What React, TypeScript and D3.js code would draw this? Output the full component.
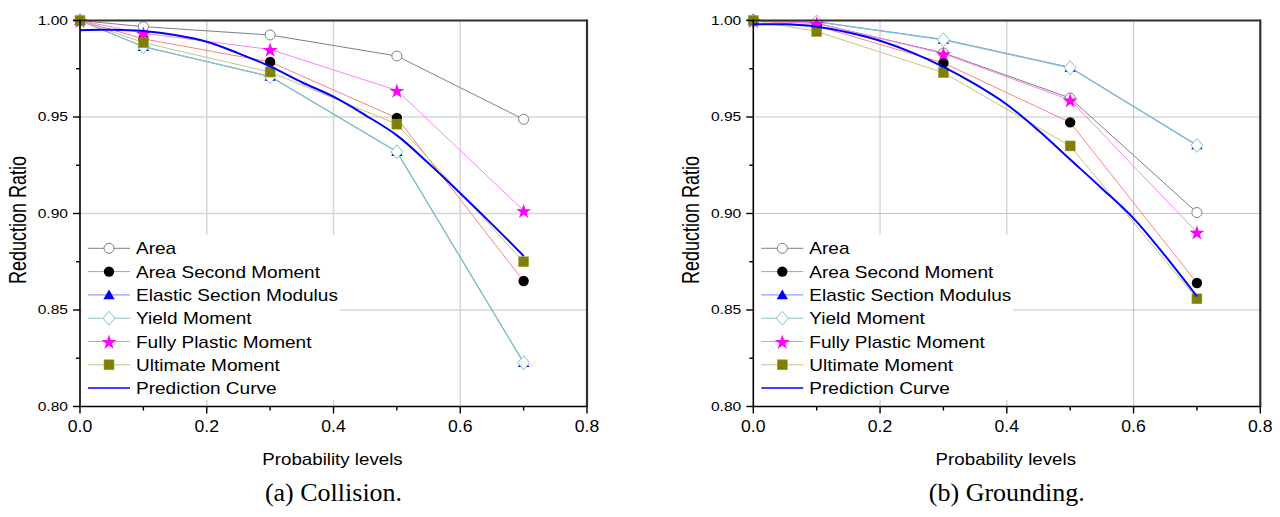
import React from "react";
import * as d3 from "d3";

// ---------- data ----------
const probLevels = [0, 0.1, 0.3, 0.5, 0.7];
const seriesNames = [
  "Area",
  "Area Second Moment",
  "Elastic Section Modulus",
  "Yield Moment",
  "Fully Plastic Moment",
  "Ultimate Moment",
];

// (a) Collision
const colArea = [1.0, 0.9968, 0.9925, 0.9816, 0.9488];
const colAreaSecond = [1.0, 0.9905, 0.9785, 0.9495, 0.865];
const colElastic = [1.0, 0.9864, 0.971, 0.932, 0.8227];
const colYield = [1.0, 0.9864, 0.971, 0.932, 0.8227];
const colPlastic = [1.0, 0.9934, 0.985, 0.9638, 0.9015];
const colUltimate = [1.0, 0.9885, 0.9733, 0.9463, 0.875];
const colPredX = [0, 0.05, 0.1, 0.15, 0.2, 0.25, 0.3, 0.35, 0.4, 0.45, 0.5, 0.55, 0.6, 0.65, 0.7];
const colPredY = [0.995, 0.9952, 0.9945, 0.9925, 0.989, 0.983, 0.9762, 0.968, 0.9605, 0.951, 0.9405, 0.926, 0.9105, 0.8945, 0.878];

// (b) Grounding
const grdArea = [1.0, 0.9985, 0.9832, 0.9598, 0.9005];
const grdAreaSecond = [1.0, 0.9972, 0.978, 0.9472, 0.864];
const grdElastic = [1.0, 0.9994, 0.9902, 0.9757, 0.9355];
const grdYield = [1.0, 0.9993, 0.99, 0.9755, 0.9353];
const grdPlastic = [1.0, 0.9986, 0.9828, 0.9588, 0.8903];
const grdUltimate = [1.0, 0.9943, 0.973, 0.935, 0.8558];
const grdPredX = [0, 0.05, 0.1, 0.15, 0.2, 0.25, 0.3, 0.35, 0.4, 0.45, 0.5, 0.55, 0.6, 0.65, 0.7];
const grdPredY = [0.998, 0.998, 0.9968, 0.9938, 0.9895, 0.9835, 0.976, 0.967, 0.9565, 0.943, 0.928, 0.913, 0.8975, 0.878, 0.857];

const xTicks = [0, 0.2, 0.4, 0.6, 0.8];
const xTickLabels = ["0.0", "0.2", "0.4", "0.6", "0.8"];
const xMinor = [0.1, 0.3, 0.5, 0.7];
const yTicks = [0.8, 0.85, 0.9, 0.95, 1.0];
const yTickLabels = ["0.80", "0.85", "0.90", "0.95", "1.00"];
const yMinor = [0.825, 0.875, 0.925, 0.975];

// ---------- styles ----------
const lineColors = ["#808080", "#ff8080", "#8080ff", "#80c4c4", "#ff80ff", "#c4c488"];
const lineWidths = [1, 1, 1, 1.3, 1, 1];
const predColor = "#0000ff";
const SANS = "'Liberation Sans', Arial, sans-serif";
const SERIF = "'Liberation Serif', 'Times New Roman', serif";

function Marker({ kind, x, y }: { kind: number; x: number; y: number }) {
  switch (kind) {
    case 0:
      return <circle cx={x} cy={y} r={5} fill="#fff" stroke="#808080" strokeWidth={1} />;
    case 1:
      return <circle cx={x} cy={y} r={5.2} fill="#000" />;
    case 2:
      return (
        <path
          d={d3.symbol(d3.symbolTriangle, 55)()!}
          transform={`translate(${x},${y + 1})`}
          fill="#0000ff"
        />
      );
    case 3:
      return (
        <path
          d={`M0,-7L6,0L0,7L-6,0Z`}
          transform={`translate(${x},${y})`}
          fill="#fff"
          stroke="#80c4c4"
          strokeWidth={1}
        />
      );
    case 4:
      return (
        <path d={d3.symbol(d3.symbolStar, 70)()!} transform={`translate(${x},${y + 1})`} fill="#ff00ff" />
      );
    default:
      return <rect x={x - 5} y={y - 5} width={10} height={10} fill="#808000" stroke="#a0a040" strokeWidth={0.5} />;
  }
}

function HText({
  x,
  y,
  size,
  sx,
  anchor,
  children,
  family = SANS,
}: {
  x: number;
  y: number;
  size: number;
  sx: number;
  anchor: "start" | "middle" | "end";
  children: React.ReactNode;
  family?: string;
}) {
  return (
    <g transform={`translate(${x},${y}) scale(${sx},1)`}>
      <text x={0} y={0} fontSize={size} fontFamily={family} textAnchor={anchor} fill="#000">
        {children}
      </text>
    </g>
  );
}

function Panel({
  left,
  series,
  predX,
  predY,
  caption,
  gridColor,
  gridWidth,
  legendTextX,
}: {
  left: number;
  series: number[][];
  predX: number[];
  predY: number[];
  caption: string;
  gridColor: string;
  gridWidth: number;
  legendTextX: number;
}) {
  const width = 507;
  const x = d3.scaleLinear().domain([0, 0.8]).range([left, left + width]);
  const y = d3.scaleLinear().domain([0.8, 1.0]).range([406.5, 20.5]);
  const line = d3
    .line<[number, number]>()
    .x((d) => x(d[0]))
    .y((d) => y(d[1]));
  const predLine = d3
    .line<[number, number]>()
    .x((d) => x(d[0]))
    .y((d) => y(d[1]))
    .curve(d3.curveCatmullRom);

  const legTop = 248.3;
  const legStep = 23.3;
  const legLineX0 = left + 8;
  const legLineX1 = left + 50;
  const legMarkX = left + 29;
  const cx = (x(0) + x(0.8)) / 2;

  return (
    <g>
      {/* grid */}
      {[0.2, 0.4, 0.6].map((v) => (
        <line key={"gx" + v} x1={x(v)} x2={x(v)} y1={y(0.8)} y2={y(1.0)} stroke={gridColor} strokeWidth={gridWidth} />
      ))}
      {[0.85, 0.9, 0.95].map((v) => (
        <line key={"gy" + v} x1={x(0)} x2={x(0.8)} y1={y(v)} y2={y(v)} stroke={gridColor} strokeWidth={gridWidth} />
      ))}
      {/* legend background */}
      <rect x={left + 2} y={235} width={258} height={165} fill="#fff" />

      {/* series lines & markers */}
      {series.map((vals, si) => (
        <g key={"s" + si}>
          <path
            d={line(probLevels.map((p, i) => [p, vals[i]] as [number, number]))!}
            fill="none"
            stroke={lineColors[si]}
            strokeWidth={lineWidths[si]}
          />
        </g>
      ))}
      {series.map((vals, si) => (
        <g key={"m" + si}>
          {probLevels.map((p, i) => (
            <Marker key={i} kind={si} x={x(p)} y={y(vals[i])} />
          ))}
        </g>
      ))}
      <path
        d={predLine(predX.map((p, i) => [p, predY[i]] as [number, number]))!}
        fill="none"
        stroke={predColor}
        strokeWidth={2}
      />

      {/* frame */}
      <line x1={x(0)} x2={x(0.8)} y1={y(1.0)} y2={y(1.0)} stroke="#303030" strokeWidth={2.2} />
      <line x1={x(0.8)} x2={x(0.8)} y1={y(1.0) - 1} y2={y(0.8)} stroke="#303030" strokeWidth={2.2} />
      <line x1={x(0)} x2={x(0)} y1={y(1.0) - 1} y2={y(0.8) + 0.75} stroke="#000" strokeWidth={1.6} />
      <line x1={x(0)} x2={x(0.8) + 1} y1={y(0.8)} y2={y(0.8)} stroke="#000" strokeWidth={1.6} />

      {/* x ticks */}
      {xTicks.map((v, i) => (
        <g key={"xt" + i}>
          <line x1={x(v)} x2={x(v)} y1={y(0.8)} y2={y(0.8) + 7} stroke="#000" strokeWidth={1.4} />
          <HText x={x(v)} y={432} size={16} sx={1.1} anchor="middle">
            {xTickLabels[i]}
          </HText>
        </g>
      ))}
      {xMinor.map((v) => (
        <line key={"xm" + v} x1={x(v)} x2={x(v)} y1={y(0.8)} y2={y(0.8) + 4} stroke="#000" strokeWidth={1.4} />
      ))}
      {/* y ticks */}
      {yTicks.map((v, i) => (
        <g key={"yt" + i}>
          <line x1={x(0) - 7} x2={x(0)} y1={y(v)} y2={y(v)} stroke="#000" strokeWidth={1.4} />
          <HText x={x(0) - 12} y={y(v) + 4.3} size={12} sx={1.3} anchor="end">
            {yTickLabels[i]}
          </HText>
        </g>
      ))}
      {yMinor.map((v) => (
        <line key={"ym" + v} x1={x(0) - 4} x2={x(0)} y1={y(v)} y2={y(v)} stroke="#000" strokeWidth={1.4} />
      ))}

      {/* axis titles */}
      <HText x={cx - 1} y={465} size={16} sx={1.17} anchor="middle">
        Probability levels
      </HText>
      <g transform={`translate(${left - 54},220) scale(1.35,1) rotate(-90)`}>
        <text x={0} y={0} fontSize={18} fontFamily={SANS} textAnchor="middle" fill="#000">
          Reduction Ratio
        </text>
      </g>

      {/* legend */}
      {seriesNames.map((name, i) => {
        const ly = legTop + legStep * i;
        return (
          <g key={"lg" + i}>
            <line x1={legLineX0} x2={legLineX1} y1={ly} y2={ly} stroke={lineColors[i]} strokeWidth={1} />
            <Marker kind={i} x={legMarkX} y={ly} />
            <HText x={legendTextX} y={ly + 6} size={17} sx={1.12} anchor="start">
              {name}
            </HText>
          </g>
        );
      })}
      <g>
        <line
          x1={legLineX0}
          x2={legLineX1}
          y1={legTop + legStep * 6}
          y2={legTop + legStep * 6}
          stroke={predColor}
          strokeWidth={1.5}
        />
        <HText x={legendTextX} y={legTop + legStep * 6 + 6} size={17} sx={1.12} anchor="start">
          Prediction Curve
        </HText>
      </g>

      {/* caption */}
      <HText x={cx} y={501} size={26} sx={1.0} anchor="middle" family={SERIF}>
        {caption}
      </HText>
    </g>
  );
}

export default function App() {
  return (
    <svg
      width={1280}
      height={517}
      style={{ position: "absolute", left: 0, top: 0, background: "#fff" }}
    >
      <rect x={0} y={0} width={1280} height={517} fill="#fff" />
      <Panel
        left={80}
        series={[colArea, colAreaSecond, colElastic, colYield, colPlastic, colUltimate]}
        predX={colPredX}
        predY={colPredY}
        caption="(a) Collision."
        gridColor="#d6d6d6"
        gridWidth={1.5}
        legendTextX={136}
      />
      <Panel
        left={753.3}
        series={[grdArea, grdAreaSecond, grdElastic, grdYield, grdPlastic, grdUltimate]}
        predX={grdPredX}
        predY={grdPredY}
        caption="(b) Grounding."
        gridColor="#c4c4c4"
        gridWidth={1}
        legendTextX={809.3}
      />
    </svg>
  );
}
